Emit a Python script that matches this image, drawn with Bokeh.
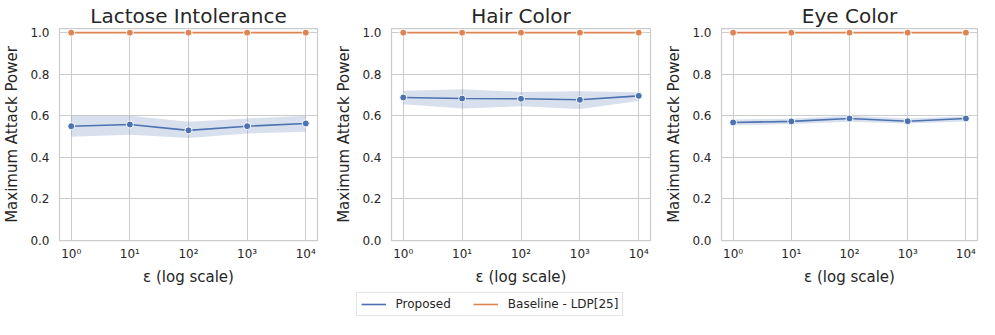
from bokeh.plotting import figure
from bokeh.models import Range1d, FixedTicker, Legend, LegendItem, PrintfTickFormatter
from bokeh.layouts import column, row
from bokeh.embed import file_html
from bokeh.resources import INLINE

eps = [1, 10, 100, 1000, 10000]
x_tick_labels = ["10⁰", "10¹", "10²", "10³", "10⁴"]
y_ticks = [0.0, 0.2, 0.4, 0.6, 0.8, 1.0]

titles = ["Lactose Intolerance", "Hair Color", "Eye Color"]

lactose_mean = [0.550, 0.558, 0.530, 0.550, 0.563]
lactose_low = [0.499, 0.509, 0.493, 0.515, 0.523]
lactose_high = [0.600, 0.600, 0.571, 0.587, 0.600]

hair_mean = [0.688, 0.683, 0.682, 0.677, 0.696]
hair_low = [0.655, 0.635, 0.646, 0.633, 0.671]
hair_high = [0.721, 0.728, 0.715, 0.718, 0.713]

eye_mean = [0.568, 0.573, 0.587, 0.574, 0.587]
eye_low = [0.554, 0.560, 0.571, 0.563, 0.573]
eye_high = [0.582, 0.586, 0.600, 0.587, 0.598]

baseline = [1.0, 1.0, 1.0, 1.0, 1.0]

series_names = ["Proposed", "Baseline - LDP[25]"]

BLUE = "#4c72b0"
ORANGE = "#dd8452"
TEXT = "#262626"
GRID = "#cccccc"
FONT = "DejaVu Sans"

panels = [
    (lactose_mean, lactose_low, lactose_high),
    (hair_mean, hair_low, hair_high),
    (eye_mean, eye_low, eye_high),
]
widths = [332, 330, 317]
right_borders = [15, 12, 2]

figs = []
for i, (mean, low, high) in enumerate(panels):
    p = figure(width=widths[i], height=288, x_axis_type="log",
               x_range=Range1d(10 ** -0.2, 10 ** 4.2), y_range=Range1d(0, 1.02),
               output_backend="svg", toolbar_location=None, title=titles[i],
               min_border_left=0, min_border_right=right_borders[i],
               min_border_top=19, min_border_bottom=44)
    p.title.align = "center"
    p.title.text_font = FONT
    p.title.text_font_size = "20px"
    p.title.text_font_style = "normal"
    p.title.text_color = TEXT
    p.title.standoff = 2

    p.varea(x=eps, y1=low, y2=high, fill_color=BLUE, fill_alpha=0.22)
    p.line(eps, mean, line_color=BLUE, line_width=1.6)
    p.scatter(eps, mean, size=7, fill_color=BLUE, line_color="white", line_width=1)
    p.line(eps, baseline, line_color=ORANGE, line_width=1.6)
    p.scatter(eps, baseline, size=7, fill_color=ORANGE, line_color="white", line_width=1)

    p.xaxis.ticker = FixedTicker(ticks=eps, minor_ticks=[])
    p.xaxis.major_label_overrides = {t: l for t, l in zip(eps, x_tick_labels)}
    p.yaxis.ticker = FixedTicker(ticks=y_ticks, minor_ticks=[])
    p.yaxis.formatter = PrintfTickFormatter(format="%.1f")
    p.xaxis.axis_label = "ε (log scale)"
    p.yaxis.axis_label = "Maximum Attack Power"
    for ax in (p.xaxis[0], p.yaxis[0]):
        ax.axis_line_color = None
        ax.major_tick_line_color = None
        ax.minor_tick_line_color = None
        ax.major_tick_out = 0
        ax.major_tick_in = 0
        ax.minor_tick_out = 0
        ax.minor_tick_in = 0
        ax.major_label_text_font = FONT
        ax.major_label_text_font_size = "12px"
        ax.major_label_text_color = TEXT
        ax.axis_label_text_font = FONT
        ax.axis_label_text_font_size = "15px"
        ax.axis_label_text_font_style = "normal"
        ax.axis_label_text_color = TEXT
    p.xaxis.major_label_standoff = 6
    p.xaxis.axis_label_standoff = 4
    p.yaxis.major_label_standoff = 10
    p.yaxis.axis_label_standoff = 6
    p.xgrid.grid_line_color = GRID
    p.ygrid.grid_line_color = GRID
    p.outline_line_color = GRID
    p.outline_line_width = 1.25
    figs.append(p)

lf = figure(width=979, height=31, x_range=Range1d(0, 1), y_range=Range1d(0, 1),
            output_backend="svg", toolbar_location=None, min_border=0)
lf.axis.visible = False
lf.grid.visible = False
lf.outline_line_color = None
r1 = lf.line([-5, -4], [-5, -5], line_color=BLUE, line_width=1.6)
r2 = lf.line([-5, -4], [-5, -5], line_color=ORANGE, line_width=1.6)
leg = Legend(items=[LegendItem(label=series_names[0], renderers=[r1]),
                    LegendItem(label=series_names[1], renderers=[r2])],
             location="center", orientation="horizontal")
leg.label_text_font = FONT
leg.label_text_font_size = "12px"
leg.label_text_color = TEXT
leg.glyph_width = 25
leg.glyph_height = 14
leg.label_height = 14
leg.label_standoff = 10
leg.spacing = 22
leg.padding = 4
leg.margin = 0
leg.border_line_color = GRID
leg.border_line_width = 1
lf.add_layout(leg, "center")

layout = column(row(*figs), lf)
open("out.html", "w").write(file_html(layout, INLINE))
